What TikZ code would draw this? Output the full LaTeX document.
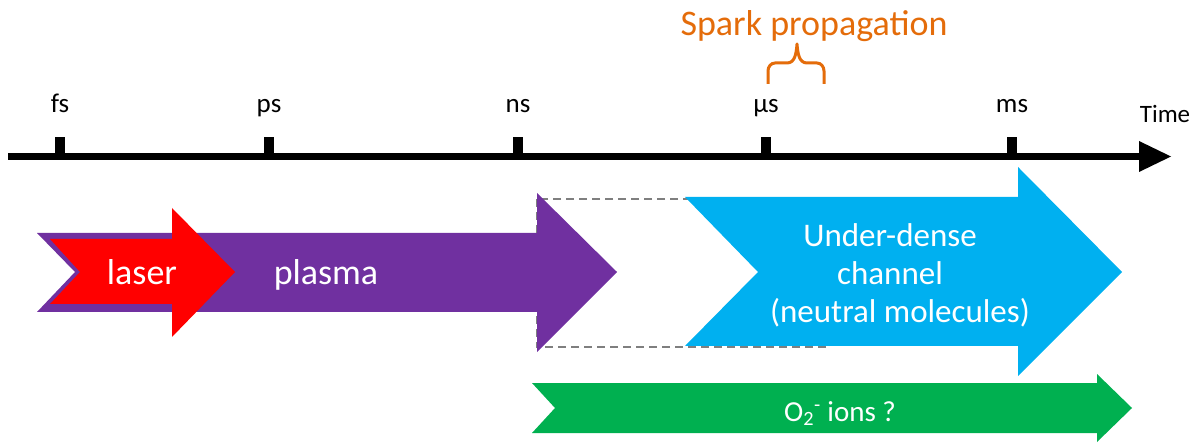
\documentclass[tikz,border=0pt]{standalone}
\usepackage{fontspec}
\setmainfont{Carlito}
\definecolor{cpurple}{HTML}{7030A0}
\definecolor{cred}{HTML}{FF0000}
\definecolor{cblue}{HTML}{00B0F0}
\definecolor{cgreen}{HTML}{00B050}
\definecolor{corange}{HTML}{E46C0A}
\definecolor{cgray}{HTML}{7F7F7F}
\begin{document}
\begin{tikzpicture}[x=1pt,y=-1pt,
  ticklbl/.style={font=\fontsize{27}{32}\selectfont, anchor=base, inner sep=0pt},
  tickmark/.style={fill=black},
  bigtxt/.style={font=\fontsize{36}{40}\selectfont, anchor=base, inner sep=0pt, text=white},
  bluetxt/.style={font=\fontsize{33}{38}\selectfont, anchor=base, inner sep=0pt, text=white},
  gtxt/.style={font=\fontsize{29}{34}\selectfont, anchor=base, inner sep=0pt, text=white},
  dashbox/.style={draw=cgray, line width=2.5pt, dash pattern=on 8pt off 5pt}]
\useasboundingbox (0,0) rectangle (1204,443);
% time axis
\fill (8,153) rectangle (1140,160);
\fill (1139,141) -- (1171,156.5) -- (1139,172) -- cycle;
\foreach \x/\n/\t in {60/fs/fs, 269/ps/ps, 518/ns/ns, 766/us/µs, 1012/ms/ms} {
  \fill[tickmark] (\x-5,137) rectangle (\x+5,155);
  \node[ticklbl] (l\n) at (\x,113) {\t};
}
\node[font=\fontsize{25}{30}\selectfont, anchor=base, inner sep=0pt] (time) at (1165,123) {Time};
% spark propagation
\node[font=\fontsize{36}{40}\selectfont, anchor=base, inner sep=0pt, text=corange] (spark) at (814,36) {Spark propagation};
\draw[corange, line width=3pt, line join=round]
  (768,84) -- (768,71) to[out=90,in=180] (775,63) -- (787,63)
  to[out=0,in=-95] (797,44) to[out=-85,in=180] (807,63) -- (817,63)
  to[out=0,in=90] (824,71) -- (824,84);
% dashed box (behind blue)
\draw[dashbox] (537,199) rectangle (830,347);
% purple plasma arrow
\fill[cpurple] (37,233) -- (537,233) -- (537,193) -- (617,272) -- (537,352)
  -- (537,312) -- (37,312) -- (75,272) -- cycle;
% red laser arrow
\fill[cred] (50,239) -- (172,239) -- (172,208) -- (235,272) -- (172,337)
  -- (172,304) -- (50,304) -- (80,272) -- cycle;
\node[bigtxt] (laser) at (142,285) {laser};
\node[bigtxt] (plasma) at (326,285) {plasma};
% blue channel arrow
\fill[cblue] (685,197) -- (1018,197) -- (1018,167) -- (1122,272) -- (1018,376)
  -- (1018,346) -- (685,346) -- (758,272) -- cycle;
\node[bluetxt] (ud) at (890,247) {Under-dense};
\node[bluetxt] (ch) at (890,285) {channel};
\node[bluetxt] (nm) at (900,323) {(neutral molecules)};
% green O2- arrow
\fill[cgreen] (532,383) -- (1097,383) -- (1097,374) -- (1132,408) -- (1097,442)
  -- (1097,433) -- (532,433) -- (555,408) -- cycle;
\node[gtxt] (ions) at (840,421) {O\textsubscript{2}\textsuperscript{-} ions ?};
\end{tikzpicture}
\end{document}
